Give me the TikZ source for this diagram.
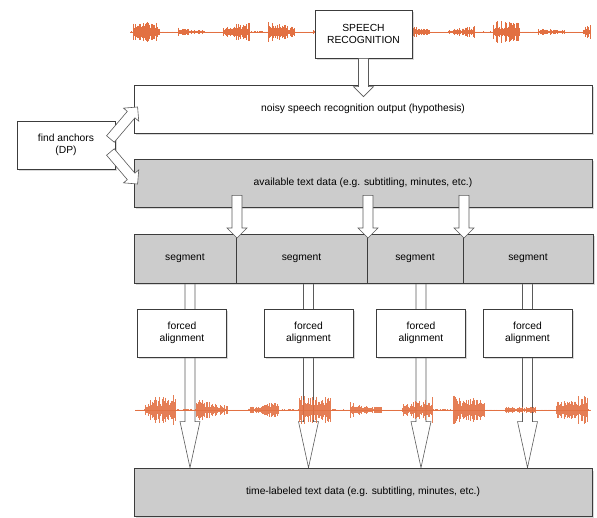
\documentclass[tikz,border=0pt]{standalone}
\usepackage{fontspec}
\setmainfont{Liberation Sans}
\usetikzlibrary{calc, positioning, shadows, backgrounds}
\definecolor{waveorange}{RGB}{226,112,66}
\definecolor{boxgray}{RGB}{204,204,204}
\definecolor{edgegray}{RGB}{60,60,60}
\definecolor{arrgray}{RGB}{90,90,90}

\begin{document}
\begin{tikzpicture}[x=1pt, y=-1pt,
  box/.style={draw=edgegray, line width=0.8pt, fill=white, minimum height=48pt,
              inner sep=0pt, align=center, font=\fontsize{10.3}{12.5}\selectfont,
              drop shadow={shadow xshift=1.5pt, shadow yshift=-2.5pt, opacity=.3}},
  wide/.style={box, minimum width=458pt},
  grey/.style={fill=boxgray},
  seg/.style={box, grey, minimum height=49pt, outer sep=0pt},
  blockarr/.style={draw=arrgray, fill=white, line width=0.6pt, line join=miter,
    to path={let \p1=($(\tikztotarget)!#1!(\tikztostart)$) in
      ($(\tikztostart)!5pt!90:(\tikztotarget)$) -- ($(\p1)!5pt!90:(\tikztotarget)$)
      -- ($(\p1)!10pt!90:(\tikztotarget)$) -- (\tikztotarget)
      -- ($(\p1)!10pt!-90:(\tikztotarget)$) -- ($(\p1)!5pt!-90:(\tikztotarget)$)
      -- ($(\tikztostart)!5pt!-90:(\tikztotarget)$) -- cycle}},
  blockarr/.default=10pt,
  wave/.style={waveorange, line width=1pt}
]
\useasboundingbox (0,0) rectangle (597,518);
\pgfmathsetseed{11}

% speech signal at the top
\draw[wave, line width=0.8pt] (130,32) -- (590,32);
\foreach \x in {130,...,590}{
  \pgfmathsetmacro{\amp}{(sin(8*\x) > -0.3 ? 1 : 0.06)*11*(0.6+0.4*sin(3*\x+30))*(0.3+0.7*rnd)}
  \draw[wave] (\x,32-\amp) -- (\x,32+\amp);
}

\node[box, minimum width=97pt] (speech) at (363.5,34) {SPEECH\\RECOGNITION};
\node[wide] (hyp) at (363,109) {noisy speech recognition output (hypothesis)};
\node[wide, grey] (avail) at (363,183) {available text data (e.g. subtitling, minutes, etc.)};
\node[box, minimum width=98pt] (anchors) at (66,145) {find anchors\\(DP)};

\node[seg, minimum width=102pt] (seg1) at (185,258.5) {segment};
\node[seg, minimum width=131pt, right=0pt of seg1] (seg2) {segment};
\node[seg, minimum width=96pt, right=0pt of seg2] (seg3) {segment};
\node[seg, minimum width=130pt, right=0pt of seg3] (seg4) {segment};

\foreach \i/\x in {1/182, 2/308.5, 3/421, 4/527.5}
  \node[box, minimum width=89pt] (fa\i) at (\x,333) {forced\\alignment};

\node[wide, grey] (time) at (363,492) {time-labeled text data (e.g. subtitling, minutes, etc.)};

% long arrows pass behind the alignment boxes
\begin{scope}[on background layer]
\foreach \i/\dx in {1/8, 2/0, 3/0, 4/0}
  \draw[blockarr=46pt] ($(fa\i |- seg1.south)+(\dx,0)$) to ($(fa\i |- time.north)+(\dx,0)$);
\end{scope}

% speech signal at the bottom
\begin{scope}[opacity=.9]
\draw[wave, line width=0.8pt] (135,410) -- (590,410);
\foreach \x in {135,...,590}{
  \pgfmathsetmacro{\amp}{(sin(7*\x+50) > -0.35 ? 1 : 0.06)*15*(0.6+0.4*sin(2.6*\x))*(0.3+0.7*rnd)}
  \draw[wave] (\x,410-\amp) -- (\x,410+\amp);
}
\end{scope}

\draw[blockarr] (speech.south) to ($(speech.south |- hyp.north)+(0,12)$);
\draw[blockarr] ($(anchors.east)+(-5,-6)$) to ($(hyp.west)+(4,-2)$);
\draw[blockarr] ($(anchors.east)+(-5,7)$) to ($(avail.west)+(4,1)$);
\foreach \s in {seg2, seg3, seg4}
  \draw[blockarr] ($(\s.north west |- avail.south)+(1,-12)$) to ($(\s.north west)+(1,4)$);
\end{tikzpicture}
\end{document}
